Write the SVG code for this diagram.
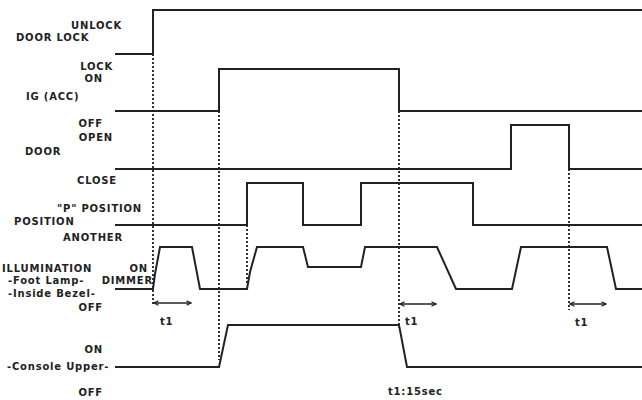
<svg xmlns="http://www.w3.org/2000/svg" width="642" height="400" viewBox="0 0 642 400">
<defs>
<marker id="ah" viewBox="0 0 8 8" refX="7" refY="4" markerWidth="6" markerHeight="6" orient="auto-start-reverse" markerUnits="userSpaceOnUse">
<path d="M1,1 L7,4 L1,7" fill="none" stroke="#222" stroke-width="1.5"/>
</marker>
</defs>
<style>
.w{fill:none;stroke:#222;stroke-width:2}
.d{fill:none;stroke:#333;stroke-width:2;stroke-dasharray:2 2}
.a{fill:none;stroke:#222;stroke-width:1.5;marker-start:url(#ah);marker-end:url(#ah)}
text{font-family:"DejaVu Sans","Liberation Sans",sans-serif;font-size:10px;font-weight:bold;fill:#222;letter-spacing:0.8px}
.r{text-anchor:end}
</style>
<rect width="642" height="400" fill="#fff"/>
<g id="labels">
<text class="r" x="122" y="29">UNLOCK</text>
<text x="16" y="41">DOOR LOCK</text>
<text class="r" x="113" y="70">LOCK</text>
<text class="r" x="103" y="82">ON</text>
<text x="26" y="100">IG (ACC)</text>
<text class="r" x="103" y="127">OFF</text>
<text class="r" x="113" y="141">OPEN</text>
<text x="25" y="155">DOOR</text>
<text class="r" x="117" y="184">CLOSE</text>
<text class="r" x="142" y="212">"P" POSITION</text>
<text x="14" y="225">POSITION</text>
<text class="r" x="123" y="241">ANOTHER</text>
<text x="2" y="272">ILLUMINATION</text>
<text class="r" x="148" y="272">ON</text>
<text x="8" y="284">-Foot Lamp-</text>
<text class="r" x="153" y="284">DIMMER</text>
<text x="8" y="297">-Inside Bezel-</text>
<text class="r" x="103" y="311">OFF</text>
<text x="160" y="325">t1</text>
<text x="405" y="325">t1</text>
<text x="575" y="326">t1</text>
<text class="r" x="103" y="353">ON</text>
<text x="7" y="370">-Console Upper-</text>
<text class="r" x="103" y="396">OFF</text>
<text x="388" y="395">t1:15sec</text>
</g>
<g id="connectors">
<line class="d" x1="153" y1="54" x2="153" y2="306"/>
<line class="d" x1="219" y1="111" x2="219" y2="360"/>
<line class="d" x1="247" y1="225" x2="247" y2="283"/>
<line class="d" x1="399" y1="111" x2="399" y2="328"/>
<line class="d" x1="569" y1="169" x2="569" y2="310"/>
<line class="a" x1="154" y1="303" x2="191" y2="303"/>
<line class="a" x1="400" y1="304" x2="436" y2="304"/>
<line class="a" x1="570" y1="304" x2="606" y2="304"/>
</g>
<g id="door-lock"><polyline class="w" points="115,54 153,54 153,10 642,10"/></g>
<g id="ig-acc"><polyline class="w" points="115,111 219,111 219,69 399,69 399,111 642,111"/></g>
<g id="door"><polyline class="w" points="115,169 511,169 511,125 569,125 569,169 642,169"/></g>
<g id="p-position"><polyline class="w" points="115,225 247,225 247,183 303,183 303,225 361,225 361,183 473,183 473,225 642,225"/></g>
<g id="illumination"><polyline class="w" points="115,289 153,289 155,274 160,247 192,247 200,289 247,289 250,272 257,247 303,247 308,267 361,267 365,247 437,247 456,289 512,289 521,247 607,247 616,289 642,289"/></g>
<g id="console-upper"><polyline class="w" points="115,367 219,367 228,325 399,325 407,367 642,367"/></g>
</svg>
